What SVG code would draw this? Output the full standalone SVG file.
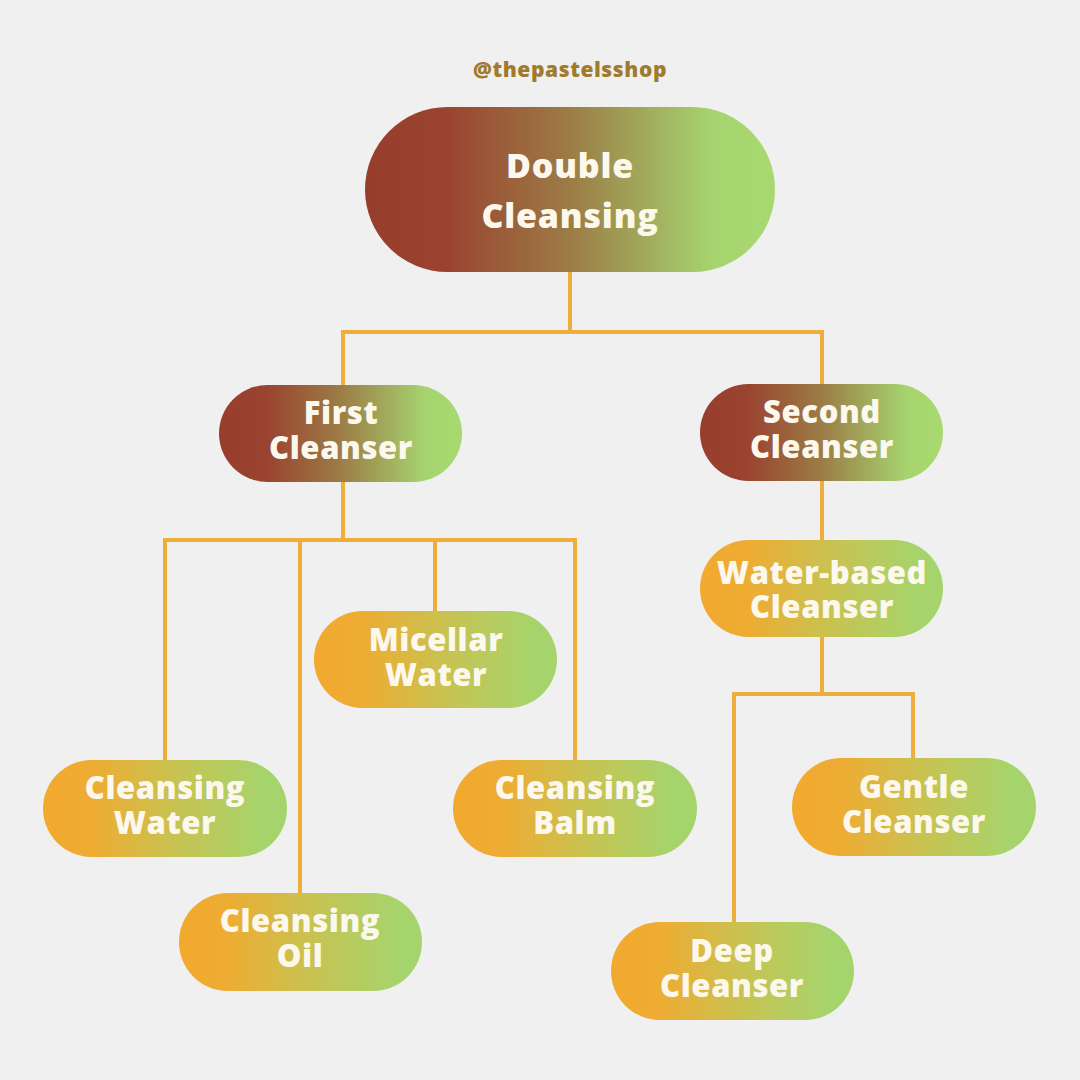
<svg xmlns="http://www.w3.org/2000/svg" width="1080" height="1080" viewBox="0 0 1080 1080">
<defs>
<linearGradient id="gDark" x1="0" y1="0" x2="1" y2="0">
<stop offset="0" stop-color="#973d2c"/>
<stop offset="0.2" stop-color="#9a4430"/>
<stop offset="0.5" stop-color="#9c7c46"/>
<stop offset="0.85" stop-color="#a6d46f"/>
<stop offset="1" stop-color="#a8d96f"/>
</linearGradient>
<linearGradient id="gLight" x1="0" y1="0" x2="1" y2="0">
<stop offset="0" stop-color="#f2a92e"/>
<stop offset="0.2" stop-color="#eeac33"/>
<stop offset="0.55" stop-color="#c7c352"/>
<stop offset="0.9" stop-color="#a6d46c"/>
<stop offset="1" stop-color="#a6d46c"/>
</linearGradient>
<style>
.t{font-family:"Open Sans","DejaVu Sans",sans-serif;font-weight:800;fill:#fcf8ee;text-anchor:middle}
.s{font-size:31px;letter-spacing:0.6px}
.big{font-size:34px;letter-spacing:0.8px}
.c line{stroke:#eeae3c;stroke-width:4;stroke-linecap:square}
</style>
</defs>
<rect width="1080" height="1080" fill="#f0f0f0"/>
<text x="570" y="77" text-anchor="middle" font-family="'Open Sans','DejaVu Sans',sans-serif" font-weight="800" font-size="21" letter-spacing="0.6" fill="#a07b2e">@thepastelsshop</text>
<g class="c" id="connectors">
<line x1="570" y1="272" x2="570" y2="332"/>
<line x1="343" y1="332" x2="822" y2="332"/>
<line x1="343" y1="332" x2="343" y2="385"/>
<line x1="822" y1="332" x2="822" y2="384"/>
<line x1="343" y1="482" x2="343" y2="540"/>
<line x1="165" y1="540" x2="575" y2="540"/>
<line x1="165" y1="540" x2="165" y2="760"/>
<line x1="300" y1="540" x2="300" y2="893"/>
<line x1="435" y1="540" x2="435" y2="611"/>
<line x1="575" y1="540" x2="575" y2="760"/>
<line x1="822" y1="481" x2="822" y2="540"/>
<line x1="822" y1="637" x2="822" y2="694"/>
<line x1="734" y1="694" x2="913" y2="694"/>
<line x1="734" y1="694" x2="734" y2="922"/>
<line x1="913" y1="694" x2="913" y2="758"/>
</g>
<g id="root">
<rect x="365" y="107" width="410" height="165" rx="82.5" fill="url(#gDark)"/>
<text class="t big" x="570" y="178">Double</text>
<text class="t big" x="570" y="228">Cleansing</text>
</g>
<g id="first">
<rect x="219" y="385" width="243" height="97" rx="48.5" fill="url(#gDark)"/>
<text class="t s" x="341" y="424">First</text>
<text class="t s" x="341" y="459">Cleanser</text>
</g>
<g id="second">
<rect x="700" y="384" width="243" height="97" rx="48.5" fill="url(#gDark)"/>
<text class="t s" x="822" y="423">Second</text>
<text class="t s" x="822" y="458">Cleanser</text>
</g>
<g id="water-based">
<rect x="700" y="540" width="243" height="97" rx="48.5" fill="url(#gLight)"/>
<text class="t s" x="822" y="584">Water-based</text>
<text class="t s" x="822" y="618">Cleanser</text>
</g>
<g id="micellar">
<rect x="314" y="611" width="243" height="97" rx="48.5" fill="url(#gLight)"/>
<text class="t s" x="436" y="651">Micellar</text>
<text class="t s" x="436" y="686">Water</text>
</g>
<g id="cleansing-water">
<rect x="43" y="760" width="244" height="97" rx="48.5" fill="url(#gLight)"/>
<text class="t s" x="165" y="799">Cleansing</text>
<text class="t s" x="165" y="834">Water</text>
</g>
<g id="cleansing-balm">
<rect x="453" y="760" width="244" height="97" rx="48.5" fill="url(#gLight)"/>
<text class="t s" x="575" y="799">Cleansing</text>
<text class="t s" x="575" y="834">Balm</text>
</g>
<g id="cleansing-oil">
<rect x="179" y="893" width="243" height="98" rx="49" fill="url(#gLight)"/>
<text class="t s" x="300" y="932">Cleansing</text>
<text class="t s" x="300" y="967">Oil</text>
</g>
<g id="gentle">
<rect x="792" y="758" width="244" height="98" rx="49" fill="url(#gLight)"/>
<text class="t s" x="914" y="798">Gentle</text>
<text class="t s" x="914" y="833">Cleanser</text>
</g>
<g id="deep">
<rect x="611" y="922" width="243" height="98" rx="49" fill="url(#gLight)"/>
<text class="t s" x="732" y="962">Deep</text>
<text class="t s" x="732" y="997">Cleanser</text>
</g>
</svg>
